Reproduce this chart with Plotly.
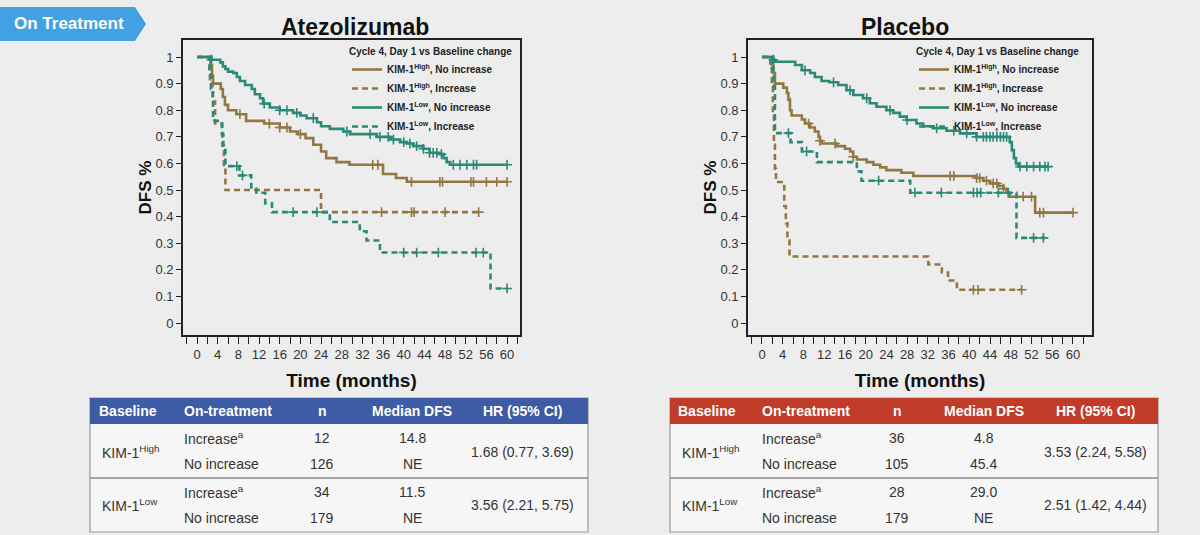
import numpy as np
import plotly.graph_objects as go

W, H = 1200, 535
FONT = "Liberation Sans, Arial, sans-serif"

# ---------------- data ----------------
SERIES_NAMES = [
    "KIM-1<sup>High</sup>, No increase",
    "KIM-1<sup>High</sup>, Increase",
    "KIM-1<sup>Low</sup>, No increase",
    "KIM-1<sup>Low</sup>, Increase",
]
LEGEND_TITLE = "Cycle 4, Day 1 vs Baseline change"
ARM_TITLES = ["Atezolizumab", "Placebo"]

MONTH_TICKS = [0, 4, 8, 12, 16, 20, 24, 28, 32, 36, 40, 44, 48, 52, 56, 60]
DFS_TICKS = [0, 0.1, 0.2, 0.3, 0.4, 0.5, 0.6, 0.7, 0.8, 0.9, 1.0]
DFS_TICK_LABELS = ["0", "0.1", "0.2", "0.3", "0.4", "0.5", "0.6", "0.7", "0.8", "0.9", "1"]

# Atezolizumab arm
atezo_high_noinc_t = [0, 2.6, 2.9, 3.1, 4.6, 5.0, 5.4, 6.0, 7.6, 9.5, 13.0, 16.0, 18.0, 19.5, 21.0, 22.5,
                      24.0, 25.0, 27.0, 29.5, 36.0, 38.5, 40.6, 60.0]
atezo_high_noinc_s = [1.0, 0.97, 0.93, 0.90, 0.88, 0.85, 0.82, 0.80, 0.785, 0.76, 0.75, 0.735, 0.72, 0.71,
                      0.695, 0.67, 0.645, 0.62, 0.605, 0.595, 0.56, 0.545, 0.531, 0.531]
atezo_high_noinc_cens = [8.3, 14.0, 16.0, 17.4, 20.0, 34.0, 35.0, 41.5, 47.0, 47.5, 53.0, 53.5, 56.0, 58.0, 60.0]

atezo_high_inc_t = [0, 2.5, 3.0, 3.5, 4.9, 5.2, 5.5, 24.0, 54.5]
atezo_high_inc_s = [1.0, 0.917, 0.833, 0.75, 0.667, 0.583, 0.5, 0.417, 0.417]
atezo_high_inc_cens = [35.7, 41.5, 42.0, 48.0, 54.5]

atezo_low_noinc_t = [0, 2.8, 4.5, 5.0, 5.5, 6.0, 7.0, 7.7, 8.3, 9.3, 10.6, 11.2, 12.2, 12.8, 14.1, 16.0,
                     18.6, 20.0, 21.2, 23.2, 24.0, 25.7, 28.3, 29.6, 34.8, 37.4, 39.3, 40.6, 41.9, 43.8,
                     45.0, 47.0, 47.7, 48.3, 49.0, 60.0]
atezo_low_noinc_s = [1.0, 0.99, 0.98, 0.965, 0.955, 0.945, 0.94, 0.925, 0.91, 0.895, 0.88, 0.86, 0.845,
                     0.825, 0.81, 0.80, 0.79, 0.78, 0.77, 0.755, 0.74, 0.73, 0.72, 0.71, 0.70, 0.69, 0.68,
                     0.675, 0.665, 0.655, 0.64, 0.635, 0.62, 0.605, 0.595, 0.595]
atezo_low_noinc_cens = [2.8, 13.0, 16.0, 17.4, 19.3, 22.5, 29.0, 33.5, 35.4, 37.0, 38.0, 40.0, 41.2, 42.5,
                        43.8, 45.0, 45.7, 46.4, 47.3, 49.6, 50.9, 52.2, 53.5, 54.1, 60.0]

atezo_low_inc_t = [0, 2.4, 2.7, 3.1, 4.8, 5.1, 5.5, 8.2, 10.5, 11.5, 13.2, 14.5, 25.7, 31.5, 32.8, 35.4,
                   56.8, 60.0]
atezo_low_inc_s = [1.0, 0.94, 0.88, 0.76, 0.71, 0.65, 0.59, 0.555, 0.51, 0.49, 0.45, 0.417, 0.38, 0.345,
                   0.31, 0.265, 0.13, 0.13]
atezo_low_inc_cens = [7.7, 8.8, 18.6, 23.2, 40.0, 42.5, 46.7, 54.0, 55.4, 60.0]

# Placebo arm
pbo_high_noinc_t = [0, 1.9, 2.2, 2.5, 4.1, 4.8, 5.1, 5.4, 5.7, 7.7, 8.3, 9.3, 10.2, 10.9, 11.2, 11.5, 14.4,
                    16.0, 17.0, 17.6, 18.3, 20.2, 21.5, 22.8, 24.0, 26.9, 29.2, 41.4, 42.7, 44.0, 45.6,
                    46.6, 47.2, 47.8, 52.7, 60.0]
pbo_high_noinc_s = [1.0, 0.97, 0.94, 0.90, 0.885, 0.865, 0.84, 0.80, 0.78, 0.765, 0.75, 0.735, 0.72, 0.70,
                    0.685, 0.675, 0.665, 0.655, 0.645, 0.625, 0.615, 0.605, 0.595, 0.585, 0.575, 0.565,
                    0.553, 0.545, 0.535, 0.525, 0.515, 0.505, 0.49, 0.475, 0.415, 0.415]
pbo_high_noinc_cens = [9.0, 11.2, 14.1, 17.6, 36.3, 37.0, 41.4, 42.0, 43.3, 44.6, 45.3, 46.6, 50.4, 52.0,
                       53.6, 54.3, 60.0]

pbo_high_inc_t = [0, 1.6, 1.9, 2.1, 2.3, 2.5, 2.7, 4.3, 4.6, 4.9, 5.3, 32.1, 34.7, 35.9, 37.6, 50.1]
pbo_high_inc_s = [1.0, 0.97, 0.89, 0.78, 0.67, 0.58, 0.53, 0.44, 0.375, 0.31, 0.25, 0.22, 0.19, 0.16,
                  0.125, 0.125]
pbo_high_inc_cens = [40.8, 41.7, 50.1]

pbo_low_noinc_t = [0, 2.2, 2.5, 6.4, 7.7, 9.3, 10.2, 11.5, 13.0, 14.7, 16.3, 17.6, 19.5, 20.8, 22.1, 24.0,
                   25.3, 26.6, 27.9, 29.8, 31.1, 33.0, 35.6, 38.2, 41.4, 47.8, 48.2, 48.6, 49.0, 49.5, 55.2]
pbo_low_noinc_s = [1.0, 0.99, 0.982, 0.97, 0.95, 0.94, 0.925, 0.91, 0.905, 0.895, 0.875, 0.857, 0.845,
                   0.826, 0.813, 0.80, 0.79, 0.776, 0.763, 0.75, 0.74, 0.732, 0.723, 0.713, 0.70, 0.68,
                   0.65, 0.62, 0.60, 0.588, 0.588]
pbo_low_noinc_cens = [2.2, 8.3, 13.8, 17.0, 20.2, 24.7, 28.0, 33.7, 37.0, 39.5, 41.4, 42.7, 43.3, 44.0,
                      44.6, 45.3, 46.0, 46.6, 47.2, 49.8, 51.1, 52.4, 53.6, 54.6, 55.2]

pbo_low_inc_t = [0, 1.9, 2.2, 2.5, 5.5, 7.7, 10.6, 18.3, 19.2, 28.6, 49.1, 54.6]
pbo_low_inc_s = [1.0, 0.96, 0.89, 0.714, 0.68, 0.645, 0.605, 0.57, 0.535, 0.49, 0.32, 0.32]
pbo_low_inc_cens = [5.1, 8.6, 22.5, 29.5, 34.6, 40.8, 41.5, 42.2, 45.6, 47.5, 52.4, 54.3]

# Tables
TABLE_HEADERS = ["Baseline", "On-treatment", "n", "Median DFS", "HR (95% CI)"]
BASELINE_GROUPS = ["KIM-1<sup>High</sup>", "KIM-1<sup>Low</sup>"]
ON_TREATMENT = ["Increase<sup>a</sup>", "No increase", "Increase<sup>a</sup>", "No increase"]
atezo_n = ["12", "126", "34", "179"]
atezo_median = ["14.8", "NE", "11.5", "NE"]
atezo_hr = ["1.68 (0.77, 3.69)", "3.56 (2.21, 5.75)"]
pbo_n = ["36", "105", "28", "179"]
pbo_median = ["4.8", "45.4", "29.0", "NE"]
pbo_hr = ["3.53 (2.24, 5.58)", "2.51 (1.42, 4.44)"]

BADGE_TEXT = "On Treatment"

# ---------------- styling ----------------
BROWN = "#927743"
TEAL = "#2a8a77"
DASH = "6px,4px"
BG = "#ededed"
INK = "#222222"


def X(px):
    return px / W


def Y(py):
    return 1 - py / H


def surv_at(ts, ss, c):
    ts = np.asarray(ts)
    i = np.searchsorted(ts, c, side="right") - 1
    return ss[max(i, 0)]


fig = go.Figure()

arms = [
    dict(xa="x", ya="y", legend="legend", series=[
        (atezo_high_noinc_t, atezo_high_noinc_s, atezo_high_noinc_cens, BROWN, "solid"),
        (atezo_high_inc_t, atezo_high_inc_s, atezo_high_inc_cens, BROWN, DASH),
        (atezo_low_noinc_t, atezo_low_noinc_s, atezo_low_noinc_cens, TEAL, "solid"),
        (atezo_low_inc_t, atezo_low_inc_s, atezo_low_inc_cens, TEAL, DASH),
    ]),
    dict(xa="x2", ya="y2", legend="legend2", series=[
        (pbo_high_noinc_t, pbo_high_noinc_s, pbo_high_noinc_cens, BROWN, "solid"),
        (pbo_high_inc_t, pbo_high_inc_s, pbo_high_inc_cens, BROWN, DASH),
        (pbo_low_noinc_t, pbo_low_noinc_s, pbo_low_noinc_cens, TEAL, "solid"),
        (pbo_low_inc_t, pbo_low_inc_s, pbo_low_inc_cens, TEAL, DASH),
    ]),
]

for arm in arms:
    for name, (t, s, cens, col, dash) in zip(SERIES_NAMES, arm["series"]):
        fig.add_trace(go.Scatter(
            x=t, y=s, mode="lines", name=name,
            line=dict(shape="hv", color=col, width=2.6, dash=dash),
            xaxis=arm["xa"], yaxis=arm["ya"], legend=arm["legend"],
            hoverinfo="skip",
        ))
    for t, s, cens, col, dash in arm["series"]:
        fig.add_trace(go.Scatter(
            x=cens, y=[surv_at(t, s, c) for c in cens], mode="markers",
            marker=dict(symbol="cross-thin", size=7, color=col, line=dict(color=col, width=1.6)),
            xaxis=arm["xa"], yaxis=arm["ya"], showlegend=False, hoverinfo="skip",
        ))

axis_common = dict(showline=True, linecolor=INK, linewidth=1.6, mirror=True, showgrid=False,
                   zeroline=False, ticks="outside", tickcolor=INK, tickwidth=1.4,
                   tickfont=dict(family=FONT, size=13, color="#333333"))

xaxis_common = dict(axis_common, tickvals=MONTH_TICKS, ticklen=7,
                    minor=dict(dtick=2, ticks="outside", ticklen=7, tickcolor=INK, tickwidth=1.4),
                    title=dict(text="Time (months)", standoff=12,
                               font=dict(family=FONT, size=19, color="#111111", weight="bold")))
yaxis_common = dict(axis_common, tickvals=DFS_TICKS, ticktext=DFS_TICK_LABELS, ticklen=5,
                    range=[-0.045, 1.064],
                    title=dict(text="DFS %", standoff=0,
                               font=dict(family=FONT, size=17, color="#111111", weight="bold")))

y_dom = [Y(335), Y(40)]

legend_common = dict(
    xanchor="left", yanchor="top", bgcolor="rgba(0,0,0,0)", borderwidth=0,
    font=dict(family=FONT, size=10, color="#222222", weight="bold"),
    title=dict(text=LEGEND_TITLE, font=dict(family=FONT, size=10, color="#222222", weight="bold")),
    itemwidth=30, tracegroupgap=0,
)

fig.update_layout(
    width=W, height=H, margin=dict(l=0, r=0, t=0, b=0),
    paper_bgcolor=BG, plot_bgcolor=BG,
    font=dict(family=FONT, color="#333333"),
    xaxis=dict(xaxis_common, domain=[X(183), X(520)], range=[-2.71, 62.5], anchor="y"),
    yaxis=dict(yaxis_common, domain=y_dom, anchor="x"),
    xaxis2=dict(xaxis_common, domain=[X(748), X(1092)], range=[-2.70, 63.67], anchor="y2"),
    yaxis2=dict(yaxis_common, domain=y_dom, anchor="x2"),
    legend=dict(legend_common, x=X(347), y=Y(42)),
    legend2=dict(legend_common, x=X(914), y=Y(42)),
    showlegend=True,
)

shapes = []
annotations = []

# Arm titles
for title, cx in zip(ARM_TITLES, [355, 905]):
    annotations.append(dict(text=title, x=X(cx), y=Y(27), xref="paper", yref="paper",
                            showarrow=False, xanchor="center", yanchor="middle",
                            font=dict(family=FONT, size=23, color="#111111", weight="bold")))

# Badge
pts = [(0, 7), (135, 7), (146, 24), (135, 41), (0, 41)]
path = "M " + " L ".join(f"{X(a):.5f},{Y(b):.5f}" for a, b in pts) + " Z"
shapes.append(dict(type="path", path=path, xref="paper", yref="paper",
                   fillcolor="#42a1e2", line=dict(width=0), layer="below"))
annotations.append(dict(text=BADGE_TEXT, x=X(69), y=Y(24), xref="paper", yref="paper",
                        showarrow=False, xanchor="center", yanchor="middle",
                        font=dict(family=FONT, size=17, color="white", weight="bold")))


def add_table(x0, x1, hdr_color, cols, n_vals, med_vals, hr_vals):
    y_top, y_hdr, y_sep, y_bot = 398, 424, 478, 532
    shapes.append(dict(type="rect", xref="paper", yref="paper", x0=X(x0), x1=X(x1), y0=Y(y_bot),
                       y1=Y(y_top), fillcolor="#f6f6f6", line=dict(color="#9a9a9a", width=1.2),
                       layer="below"))
    shapes.append(dict(type="rect", xref="paper", yref="paper", x0=X(x0), x1=X(x1), y0=Y(y_hdr),
                       y1=Y(y_top), fillcolor=hdr_color, line=dict(width=0), layer="below"))
    shapes.append(dict(type="line", xref="paper", yref="paper", x0=X(x0), x1=X(x1), y0=Y(y_sep),
                       y1=Y(y_sep), line=dict(color="#8a8a8a", width=1.5)))
    hdr_pos = [(cols["base_hdr"], "center"), (cols["ot"], "left"), (cols["n"], "center"),
               (cols["med"], "center"), (cols["hr"], "center")]
    for txt, (cx, anc) in zip(TABLE_HEADERS, hdr_pos):
        annotations.append(dict(text=txt, x=X(cx), y=Y(411), xref="paper", yref="paper",
                                showarrow=False, xanchor=anc, yanchor="middle",
                                font=dict(family=FONT, size=14, color="white", weight="bold")))
    body_font = dict(family=FONT, size=14, color="#333333")
    row_y = [438, 464, 492, 518]
    grp_y = [452, 505]
    for g, gy, hr in zip(BASELINE_GROUPS, grp_y, hr_vals):
        annotations.append(dict(text=g, x=X(cols["base"]), y=Y(gy), xref="paper", yref="paper",
                                showarrow=False, xanchor="left", yanchor="middle", font=body_font))
        annotations.append(dict(text=hr, x=X(cols["hr"]), y=Y(gy), xref="paper", yref="paper",
                                showarrow=False, xanchor="center", yanchor="middle", font=body_font))
    for ry, ot, n, med in zip(row_y, ON_TREATMENT, n_vals, med_vals):
        annotations.append(dict(text=ot, x=X(cols["ot"]), y=Y(ry), xref="paper", yref="paper",
                                showarrow=False, xanchor="left", yanchor="middle", font=body_font))
        annotations.append(dict(text=n, x=X(cols["n"]), y=Y(ry), xref="paper", yref="paper",
                                showarrow=False, xanchor="center", yanchor="middle", font=body_font))
        annotations.append(dict(text=med, x=X(cols["med"]), y=Y(ry), xref="paper", yref="paper",
                                showarrow=False, xanchor="center", yanchor="middle", font=body_font))


add_table(90, 588, "#3e5ba6",
          dict(base=100, base_hdr=128, ot=182, n=322, med=412, hr=522),
          atezo_n, atezo_median, atezo_hr)
add_table(670, 1158, "#c03b28",
          dict(base=680, base_hdr=707, ot=760, n=897, med=984, hr=1095),
          pbo_n, pbo_median, pbo_hr)

fig.update_layout(shapes=shapes, annotations=annotations)

fig.write_html("out.html")
